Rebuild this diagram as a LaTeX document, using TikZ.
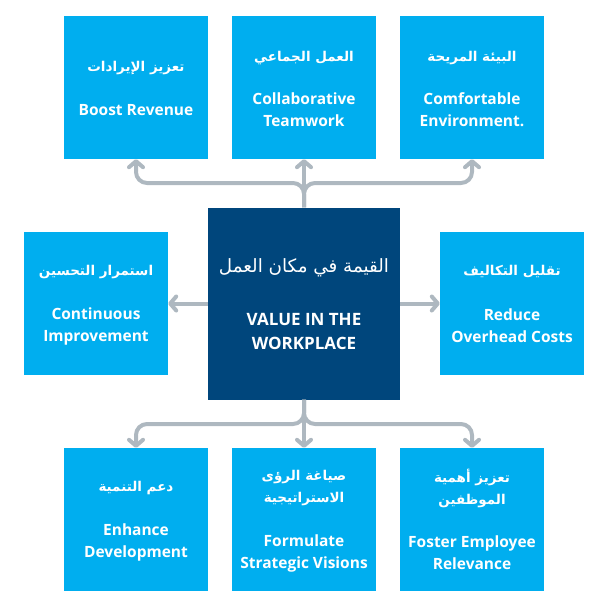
\documentclass[tikz,border=0pt]{standalone}
\usepackage{fontspec}
\setmainfont{Open Sans}
\newfontfamily\arabicfont[Script=Arabic]{DejaVu Sans}
\TeXXeTstate=1
\usetikzlibrary{arrows.meta}
\definecolor{lightbox}{RGB}{0,174,239}
\definecolor{darkbox}{RGB}{0,70,124}
\definecolor{conncol}{RGB}{174,184,192}
\tikzset{
  box/.style={fill=lightbox, draw=none, minimum width=144pt, minimum height=143pt, inner sep=0pt},
  centerbox/.style={fill=darkbox, draw=none, minimum width=192pt, minimum height=192pt, inner sep=0pt},
  ar/.style={text=white, font=\arabicfont\bfseries\fontsize{13.5}{22}\selectfont, align=center, inner sep=0pt},
  en/.style={text=white, font=\bfseries\fontsize{15.5}{22}\selectfont, align=center, inner sep=0pt},
  conn/.style={draw=conncol, line width=4pt, rounded corners=11pt, -{Straight Barb[length=6pt,width=14pt,round]}}
}
\begin{document}
\begin{tikzpicture}[x=1pt,y=-1pt]
\useasboundingbox (0,0) rectangle (607,606);
% boxes
\node[box] (b1) at (136,87.5) {};
\node[box] (b2) at (304,87.5) {};
\node[box] (b3) at (472,87.5) {};
\node[box] (bl) at (96,303.5) {};
\node[box] (br) at (512,303.5) {};
\node[box] (b7) at (136,519.5) {};
\node[box] (b8) at (304,519.5) {};
\node[box] (b9) at (472,519.5) {};
\node[centerbox] (c) at (304,303.5) {};
% junction coordinates
\coordinate (tl) at (136,183);
\coordinate (tr) at (472,183);
\coordinate (bjl) at (136,424);
\coordinate (bjr) at (472,424);
% connectors
\draw[conn] (c.north) |- (tl) -- (b1.south);
\draw[conn] (c.north) |- (tr) -- (b3.south);
\draw[conn] (c.north) -- (b2.south);
\draw[conn] (c.west) -- (bl.east);
\draw[conn] (c.east) -- (br.west);
\draw[conn] (c.south) |- (bjl) -- (b7.north);
\draw[conn] (c.south) |- (bjr) -- (b9.north);
\draw[conn] (c.south) -- (b8.north);
% texts
\node[ar] (t1a) at (136,68) {\beginR تعزيز الإيرادات\endR};
\node[en] (t1e) at (136,110) {Boost Revenue};
\node[ar] (t2a) at (304,58) {\beginR العمل الجماعي\endR};
\node[en] (t2e) at (304,110) {Collaborative\\Teamwork};
\node[ar] (t3a) at (472,58) {\beginR البيئة المريحة\endR};
\node[en] (t3e) at (472,110) {Comfortable\\Environment.};
\node[ar] (tla) at (96,272) {\beginR استمرار التحسين\endR};
\node[en] (tle) at (96,326) {Continuous\\Improvement};
\node[ar] (tra) at (512,272) {\beginR تقليل التكاليف\endR};
\node[en] (tre) at (512,326) {Reduce\\Overhead Costs};
\node[text=white, font=\arabicfont\fontsize{18.3}{22}\selectfont, inner sep=0pt] (tca) at (304,268) {\beginR القيمة في مكان العمل\endR};
\node[en, font=\bfseries\fontsize{17}{24}\selectfont] (tce) at (304,331) {VALUE IN THE\\WORKPLACE};
\node[ar] (t7a) at (136,488) {\beginR دعم التنمية\endR};
\node[en] (t7e) at (136,542) {Enhance\\Development};
\node[ar] (t8a) at (304,488) {\beginR صياغة الرؤى\\الاستراتيجية\endR};
\node[en] (t8e) at (304,553) {Formulate\\Strategic Visions};
\node[ar] (t9a) at (472,488) {\beginR تعزيز أهمية\\الموظفين\endR};
\node[en] (t9e) at (472,553) {Foster Employee\\Relevance};
\end{tikzpicture}
\end{document}
